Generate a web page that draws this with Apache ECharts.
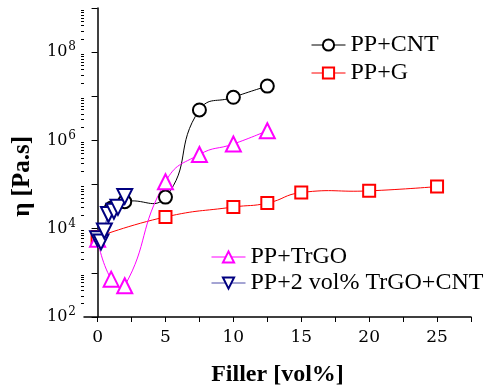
<!DOCTYPE html>
<html>
<head>
<meta charset="utf-8">
<script src="https://cdn.jsdelivr.net/npm/echarts@6/dist/echarts.min.js"></script>
<style>
  html, body { margin: 0; padding: 0; background: #fff; }
  #chart { width: 489px; height: 392px; }
</style>
</head>
<body>
<div id="chart"></div>
<script>
// filler content [vol%] and zero-shear viscosity [Pa.s]
const xCNT = [1, 2, 5, 7.5, 10, 12.5]
const yCNT = [2.9e4, 4.1e4, 5.2e4, 4.9e6, 9.5e6, 1.7e7]

const xG = [0, 5, 10, 12.5, 15, 20, 25]
const yG = [6.5e3, 1.85e4, 3.1e4, 3.8e4, 6.6e4, 7.2e4, 9.0e4]

const xTrGO = [0, 1, 2, 5, 7.5, 10, 12.5]
const yTrGO = [5.8e3, 720, 510, 1.16e5, 4.8e5, 8.3e5, 1.66e6]

const xHybrid = [0, 0.25, 0.5, 0.8, 1.2, 1.5, 2]
const yHybrid = [5.9e3, 5.0e3, 8.9e3, 2.1e4, 2.5e4, 3.05e4, 5.4e4]

const xTickLabels = [0, 5, 10, 15, 20, 25]
const xTicks = [0, 2.5, 5, 7.5, 10, 12.5, 15, 17.5, 20, 22.5, 25, 27.5]
const yLabelExps = [2, 4, 6, 8]
const yDecadeExps = [2, 3, 4, 5, 6, 7, 8, 9]

const serif = 'Liberation Serif'
const tickFont = 'DejaVu Serif'

const yMajor = yDecadeExps.map((e) => Math.pow(10, e))
const yMinor = []
yDecadeExps.slice(0, -1).forEach((e) => {
  for (let k = 2; k <= 9; k++) yMinor.push(k * Math.pow(10, e))
})

const pairs = (xs, ys) => xs.map((x, i) => [x, ys[i]])

const groups = [
  { name: 'PP+CNT', xs: xCNT, ys: yCNT, color: '#000000', line: '#000000', symbol: 'circle', size: 13, rotate: 0 },
  { name: 'PP+G', xs: xG, ys: yG, color: '#ff0000', line: '#ff0000', symbol: 'rect', size: 12, rotate: 0 },
  { name: 'PP+TrGO', xs: xTrGO, ys: yTrGO, color: '#ff00ff', line: '#ff00ff', symbol: 'triangle', size: 15, rotate: 0 },
  { name: 'PP+2 vol% TrGO+CNT', xs: xHybrid, ys: yHybrid, color: '#000080', line: '#4a4aa8', symbol: 'triangle', size: 15, rotate: 180 },
]

// spline curves through the points, drawn in pixel space
const curveSeries = groups.map((g) => ({
  type: 'custom',
  name: g.name + ' curve',
  data: pairs(g.xs, g.ys),
  z: 1,
  silent: true,
  renderItem: (params, api) => {
    if (params.dataIndex !== 0) return null
    const pts = g.xs.map((x, i) => api.coord([x, g.ys[i]]))
    return {
      type: 'polyline',
      shape: { points: pts, smooth: 0.5 },
      style: { stroke: g.line, lineWidth: 1, fill: null },
    }
  },
}))

const markerSeries = groups.map((g) => ({
  name: g.name,
  type: 'line',
  data: pairs(g.xs, g.ys),
  z: 3,
  symbol: g.symbol,
  symbolSize: g.size,
  symbolRotate: g.rotate,
  color: g.color,
  lineStyle: { opacity: 0 },
  itemStyle: { borderWidth: 2, borderColor: g.color, color: '#fff' },
  emphasis: { disabled: true },
}))

const legendItem = (g) => ({
  name: g.name,
  lineStyle: { opacity: 1, color: g.line, width: 1 },
})

const chart = echarts.init(document.getElementById('chart'), null, { renderer: 'canvas' })

chart.setOption({
  animation: false,
  grid: { left: 84, top: 8, right: 18, bottom: 70 },
  legend: [
    {
      data: groups.slice(0, 2).map(legendItem),
      orient: 'vertical',
      left: 311,
      top: 33,
      padding: 0,
      itemWidth: 34,
      itemHeight: 14,
      itemGap: 4,
      textStyle: { fontFamily: serif, fontSize: 24, color: '#000' },
    },
    {
      data: groups.slice(2).map(legendItem),
      orient: 'vertical',
      left: 211,
      top: 245,
      padding: 0,
      itemWidth: 34,
      itemHeight: 14,
      itemGap: 2,
      textStyle: { fontFamily: serif, fontSize: 24, color: '#000' },
    },
  ],
  xAxis: {
    type: 'value',
    min: -1,
    max: 27.5,
    name: 'Filler [vol%]',
    nameLocation: 'middle',
    nameGap: 46,
    nameTextStyle: { fontFamily: serif, fontWeight: 'bold', fontSize: 24, color: '#000' },
    axisLine: { onZero: false, lineStyle: { color: '#000', width: 1.5 } },
    splitLine: { show: false },
    axisTick: { customValues: xTicks, length: 5, lineStyle: { color: '#000' } },
    axisLabel: {
      customValues: xTickLabels,
      margin: 12,
      fontFamily: tickFont,
      fontSize: 17,
      color: '#000',
    },
  },
  yAxis: [
    {
      type: 'log',
      logBase: 10,
      min: 1e2,
      max: 1e9,
      position: 'left',
      axisLine: { show: true, lineStyle: { color: '#000', width: 1.5 } },
      splitLine: { show: false },
      axisTick: { customValues: yMajor, length: 6, lineStyle: { color: '#000' } },
      axisLabel: {
        customValues: yLabelExps.map((e) => Math.pow(10, e)),
        margin: 8,
        formatter: (v) => '{b|10}{s|' + Math.round(Math.log10(v)) + '}',
        rich: {
          b: { fontFamily: tickFont, fontSize: 16, color: '#000' },
          s: { fontFamily: tickFont, fontSize: 12, color: '#000', verticalAlign: 'bottom', padding: [0, 0, 10, 1] },
        },
      },
    },
    {
      type: 'log',
      logBase: 10,
      min: 1e2,
      max: 1e9,
      position: 'left',
      axisLine: { show: false },
      splitLine: { show: false },
      axisLabel: { show: false },
      axisTick: { customValues: yMinor, length: 3, lineStyle: { color: '#000' } },
    },
  ],
  graphic: [
    {
      type: 'text',
      left: 10,
      top: 136,
      rotation: Math.PI / 2,
      style: {
        text: 'η [Pa.s]',
        font: 'bold 25px "Liberation Serif"',
        fill: '#000',
      },
    },
  ],
  series: [...curveSeries, ...markerSeries],
})
</script>
</body>
</html>
